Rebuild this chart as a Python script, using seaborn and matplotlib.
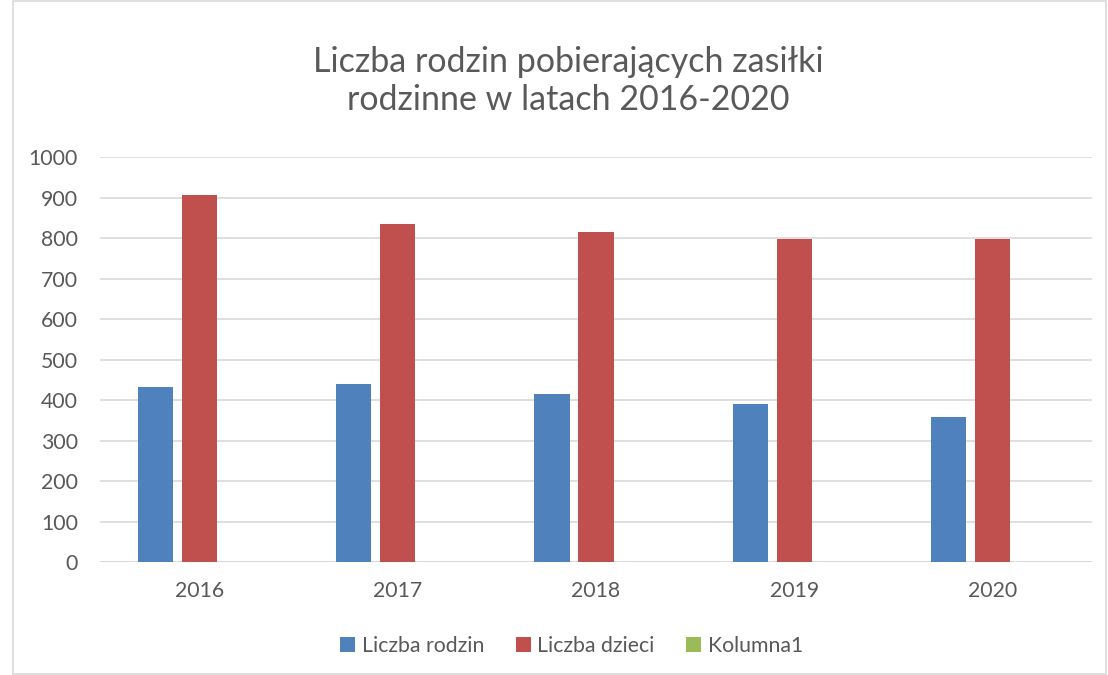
"""Bar chart: Liczba rodzin pobierających zasiłki rodzinne 2016-2020."""

import matplotlib

matplotlib.use("Agg")
import matplotlib.pyplot as plt
import numpy as np
import pandas as pd
import seaborn as sns
from matplotlib.patches import Patch, Rectangle

years = ["2016", "2017", "2018", "2019", "2020"]
liczba_rodzin = [433, 439, 415, 390, 358]
liczba_dzieci = [907, 835, 816, 797, 798]
kolumna1 = [0, 0, 0, 0, 0]
series_names = ["Liczba rodzin", "Liczba dzieci", "Kolumna1"]
colors = ["#4F81BD", "#C0504D", "#9BBB59"]

df = pd.DataFrame({
    "rok": years * 3,
    "seria": np.repeat(series_names, len(years)),
    "wartosc": liczba_rodzin + liczba_dzieci + kolumna1,
})

sns.set_theme(style="white")
plt.rcParams["font.family"] = ["Lato", "DejaVu Sans"]
text_color = "#595959"

fig = plt.figure(figsize=(11.08, 6.75), dpi=100)
ax = fig.add_axes([0.0903, 0.1674, 0.8953, 0.6])

sns.barplot(
    data=df, x="rok", y="wartosc", hue="seria",
    order=years, hue_order=series_names, palette=colors,
    width=0.665, gap=0.2, saturation=1, linewidth=0,
    legend=False, ax=ax,
)

ax.set_ylim(0, 1000)
ax.set_yticks(range(0, 1001, 100))
ax.yaxis.grid(True, color="#d9d9d9", linewidth=1.2)
ax.set_axisbelow(True)
for side in ["top", "right", "left", "bottom"]:
    ax.spines[side].set_visible(False)
ax.axhline(0, color="#d9d9d9", linewidth=1.2, zorder=0)
ax.set_xlabel("")
ax.set_ylabel("")
ax.tick_params(axis="both", length=0, labelsize=15.3, labelcolor=text_color)
ax.tick_params(axis="y", pad=16)
ax.tick_params(axis="x", pad=14)

fig.text(
    0.513, 0.88,
    "Liczba rodzin pobierających zasiłki\nrodzinne w latach 2016-2020",
    ha="center", va="center", fontsize=24.5, color=text_color, linespacing=1.25,
)

handles = [Patch(facecolor=c, edgecolor="none") for c in colors]
fig.legend(
    handles, series_names, loc="center", bbox_to_anchor=(0.516, 0.043),
    ncol=3, frameon=False, fontsize=15.3, labelcolor=text_color,
    handlelength=0.7, handleheight=0.7, handletextpad=0.3, columnspacing=1.5,
)

fig.patches.append(Rectangle(
    (0.012, 0.002), 0.986, 0.996, transform=fig.transFigure,
    fill=False, edgecolor="#d9d9d9", linewidth=1.2,
))

fig.savefig("out.png", dpi=100)
plt.close(fig)
